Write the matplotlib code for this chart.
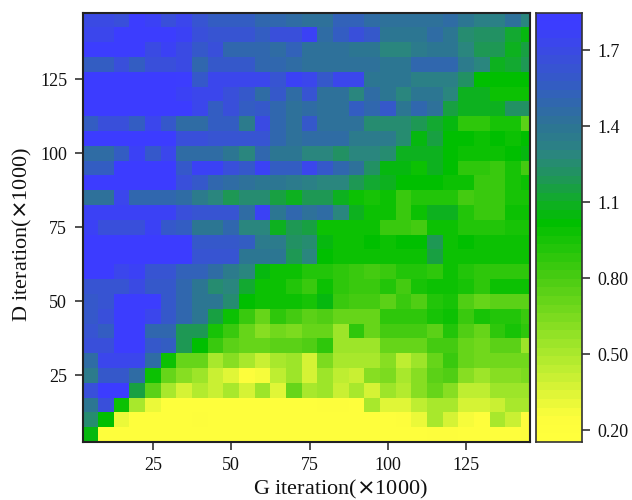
import numpy as np
import matplotlib
matplotlib.use("Agg")
import matplotlib.pyplot as plt
from matplotlib.colors import LinearSegmentedColormap, BoundaryNorm

plt.rcParams['font.family'] = ['Liberation Serif', 'DejaVu Serif']

g_iter = [5 + 5 * i for i in range(29)]
d_iter = [5 + 5 * i for i in range(29)]
x_ticks = [25, 50, 75, 100, 125]
y_ticks = [25, 50, 75, 100, 125]
cbar_ticks = [0.2, 0.5, 0.8, 1.1, 1.4, 1.7]
cbar_labels = ['0.20', '0.50', '0.80', '1.1', '1.4', '1.7']

row_145 = [1.70,1.70,1.68,1.80,1.75,1.68,1.72,1.62,1.55,1.55,1.55,1.50,1.50,1.45,1.42,1.42,1.52,1.52,1.45,1.42,1.42,1.42,1.42,1.45,1.38,1.33,1.33,1.42,1.30]
row_140 = [1.72,1.72,1.80,1.80,1.80,1.80,1.78,1.65,1.63,1.63,1.63,1.55,1.68,1.68,1.75,1.45,1.55,1.68,1.60,1.38,1.38,1.38,1.45,1.40,1.25,1.22,1.22,1.12,1.05]
row_135 = [1.80,1.80,1.80,1.80,1.70,1.75,1.70,1.60,1.68,1.50,1.50,1.50,1.45,1.52,1.42,1.42,1.42,1.38,1.38,1.30,1.30,1.35,1.38,1.38,1.30,1.20,1.20,1.10,1.15]
row_130 = [1.55,1.55,1.65,1.55,1.65,1.65,1.70,1.50,1.60,1.60,1.60,1.50,1.50,1.45,1.42,1.42,1.42,1.42,1.42,1.40,1.40,1.48,1.48,1.48,1.35,1.30,1.10,1.12,1.20]
row_125 = [1.82,1.82,1.82,1.82,1.82,1.82,1.80,1.60,1.72,1.72,1.72,1.72,1.62,1.75,1.72,1.60,1.72,1.72,1.40,1.40,1.40,1.32,1.32,1.32,1.22,1.02,1.02,1.02,1.02]
row_120 = [1.82,1.82,1.82,1.82,1.82,1.82,1.78,1.72,1.72,1.68,1.60,1.45,1.60,1.45,1.62,1.42,1.42,1.30,1.45,1.38,1.30,1.40,1.40,1.28,1.10,1.08,1.00,1.00,1.00]
row_115 = [1.82,1.82,1.82,1.82,1.82,1.82,1.82,1.72,1.55,1.65,1.55,1.58,1.50,1.42,1.45,1.42,1.42,1.55,1.48,1.58,1.38,1.50,1.42,1.15,1.10,1.10,1.10,1.22,1.22]
row_110 = [1.55,1.68,1.68,1.55,1.72,1.60,1.45,1.45,1.55,1.55,1.35,1.70,1.48,1.42,1.58,1.42,1.42,1.42,1.25,1.25,1.25,1.20,1.12,1.05,0.88,0.88,0.95,0.95,0.75]
row_105 = [1.82,1.82,1.82,1.82,1.82,1.82,1.68,1.68,1.62,1.62,1.62,1.62,1.50,1.42,1.45,1.45,1.45,1.35,1.35,1.35,1.25,1.05,1.15,1.02,1.02,0.98,1.02,0.98,1.02]
row_100 = [1.45,1.45,1.55,1.75,1.58,1.72,1.45,1.45,1.45,1.38,1.30,1.48,1.40,1.38,1.30,1.30,1.22,1.28,1.28,1.25,1.10,1.10,1.10,1.02,1.00,1.00,1.00,1.02,1.05]
row_95  = [1.55,1.55,1.82,1.82,1.82,1.82,1.60,1.75,1.75,1.65,1.58,1.75,1.55,1.55,1.72,1.60,1.50,1.42,1.22,1.05,1.05,1.00,1.10,1.02,0.88,0.88,0.85,0.95,0.82]
row_90  = [1.82,1.82,1.82,1.82,1.82,1.82,1.65,1.60,1.50,1.45,1.42,1.38,1.40,1.35,1.32,1.30,1.30,1.18,1.12,1.08,1.02,1.02,1.02,0.98,0.97,0.85,0.85,0.95,0.98]
row_85  = [1.42,1.42,1.72,1.50,1.50,1.50,1.45,1.35,1.30,1.20,1.25,1.25,1.15,1.10,1.18,1.20,1.08,1.00,0.95,0.98,0.85,0.92,0.92,0.90,0.80,0.85,0.85,0.95,0.95]
row_80  = [1.78,1.78,1.78,1.78,1.78,1.78,1.68,1.62,1.62,1.62,1.45,1.75,1.40,1.50,1.42,1.45,1.30,1.08,0.98,0.98,0.85,1.00,1.10,1.08,0.90,0.85,0.85,1.00,0.97]
row_75  = [1.75,1.65,1.65,1.65,1.78,1.60,1.55,1.38,1.38,1.50,1.30,1.30,1.10,1.20,1.15,1.00,1.00,1.00,0.98,0.85,0.85,0.83,0.98,1.00,0.90,0.90,0.90,0.95,0.95]
row_70  = [1.82,1.82,1.82,1.82,1.82,1.82,1.82,1.60,1.60,1.60,1.55,1.35,1.35,1.22,1.25,1.05,1.00,1.00,1.02,1.00,1.02,1.02,1.20,1.00,1.02,1.00,1.00,1.00,1.00]
row_65  = [1.82,1.82,1.82,1.82,1.82,1.82,1.82,1.62,1.62,1.62,1.38,1.38,1.38,1.20,1.28,1.02,1.00,1.00,1.00,1.00,1.00,1.00,1.15,1.00,1.00,1.00,1.00,1.00,1.00]
row_60  = [1.82,1.82,1.72,1.78,1.62,1.62,1.52,1.52,1.45,1.35,1.30,1.05,0.98,0.98,0.92,0.92,0.88,0.85,0.80,0.85,0.92,0.92,0.88,1.00,0.92,0.88,0.88,0.88,0.88]
row_55  = [1.62,1.62,1.62,1.70,1.60,1.60,1.50,1.38,1.25,1.30,1.12,1.00,1.00,0.92,0.85,0.98,0.88,0.85,0.85,0.90,0.80,0.95,1.00,0.98,0.95,0.88,1.00,1.00,1.00]
row_50  = [1.60,1.62,1.80,1.80,1.80,1.60,1.50,1.40,1.38,1.25,1.02,1.00,1.00,0.98,0.95,1.05,0.85,0.82,0.82,0.75,0.85,0.78,0.90,0.95,0.78,0.72,0.75,0.75,0.75]
row_45  = [1.60,1.65,1.80,1.80,1.72,1.58,1.50,1.38,1.15,1.00,0.85,0.70,0.88,0.80,0.75,0.78,0.72,0.72,0.72,0.88,0.88,0.88,0.95,1.00,0.85,0.95,0.92,0.92,0.85]
row_40  = [1.62,1.55,1.80,1.80,1.50,1.50,1.20,1.20,0.95,0.85,0.72,0.62,0.68,0.65,0.72,0.72,0.55,0.88,0.72,0.82,0.82,0.82,0.75,0.90,0.78,0.72,0.88,0.95,0.88]
row_35  = [1.65,1.65,1.80,1.80,1.60,1.55,1.20,1.02,0.85,0.75,0.72,0.72,0.75,0.75,0.78,0.88,0.55,0.55,0.55,0.70,0.72,0.72,0.80,0.82,0.72,0.68,0.75,0.75,0.55]
row_30  = [1.45,1.72,1.72,1.72,1.45,1.00,0.72,0.72,0.50,0.60,0.50,0.42,0.50,0.55,0.38,0.65,0.52,0.52,0.52,0.60,0.45,0.55,0.72,0.85,0.72,0.68,0.68,0.68,0.68]
row_25  = [1.35,1.60,1.60,1.45,1.00,0.72,0.60,0.55,0.42,0.35,0.25,0.28,0.45,0.55,0.38,0.55,0.45,0.42,0.60,0.65,0.52,0.62,0.75,0.78,0.62,0.55,0.62,0.62,0.65]
row_20  = [1.65,1.82,1.82,1.15,0.75,0.50,0.38,0.48,0.40,0.50,0.38,0.55,0.35,0.70,0.52,0.55,0.42,0.50,0.38,0.55,0.48,0.60,0.72,0.60,0.45,0.45,0.55,0.55,0.55]
row_15  = [1.40,1.68,1.00,0.50,0.32,0.20,0.20,0.20,0.20,0.20,0.20,0.20,0.20,0.20,0.20,0.25,0.25,0.20,0.52,0.35,0.35,0.45,0.50,0.50,0.38,0.38,0.42,0.52,0.52]
row_10  = [1.25,1.02,0.32,0.20,0.20,0.20,0.20,0.25,0.20,0.20,0.20,0.20,0.20,0.20,0.20,0.20,0.20,0.20,0.20,0.20,0.25,0.30,0.52,0.38,0.28,0.20,0.52,0.40,0.25]
row_5   = [1.05,0.20,0.20,0.20,0.20,0.20,0.20,0.20,0.20,0.20,0.20,0.20,0.20,0.20,0.20,0.20,0.20,0.20,0.20,0.20,0.20,0.20,0.25,0.25,0.20,0.20,0.20,0.20,0.25]

top_down = [row_145,row_140,row_135,row_130,row_125,row_120,row_115,row_110,row_105,row_100,
            row_95,row_90,row_85,row_80,row_75,row_70,row_65,row_60,row_55,row_50,row_45,
            row_40,row_35,row_30,row_25,row_20,row_15,row_10,row_5]
values = np.array(top_down[::-1])

vmin, vmax = 0.153, 1.85
span = vmax - vmin
stops = [(0.153, '#ffff3c'), (0.24, '#fcfd3c'), (0.35, '#d8f436'), (0.50, '#a8e82c'), (0.65, '#78da1e'), (0.80, '#48cc12'),
         (1.02, '#00bf00'), (1.10, '#0fae25'), (1.20, '#1f9658'), (1.30, '#2a8580'),
         (1.42, '#2d7396'), (1.55, '#3260bc'), (1.70, '#3a4ce0'), (1.82, '#3c3cff'), (1.85, '#3c3cff')]
n_levels = 50
cmap = LinearSegmentedColormap.from_list('gyb', [((v - vmin) / span, c) for v, c in stops], N=n_levels)
levels = np.linspace(vmin, vmax, n_levels + 1)
norm = BoundaryNorm(levels, cmap.N)

W, H = 632, 500
fig = plt.figure(figsize=(W / 100, H / 100), dpi=100)
ax = fig.add_axes([82.5 / W, 1 - 442 / H, 447 / W, 429.5 / H])
x_edges = np.array(g_iter + [g_iter[-1] + 5]) - 2.5
y_edges = np.array(d_iter + [d_iter[-1] + 5]) - 2.5
ax.pcolormesh(x_edges, y_edges, values, cmap=cmap, norm=norm, antialiased=False, rasterized=True)
ax.set_xlim(2.5, 145.2)
ax.set_ylim(2.5, 147.5)
ax.set_xticks(x_ticks)
ax.set_yticks(y_ticks)
ax.tick_params(length=6, width=1.1, labelsize=13, color='#222222', labelcolor='#111111', pad=5)
fig.text(340 / W, 1 - 489 / H, 'G iteration($\\times$1000)', fontsize=16, color='#111111', ha='center', va='center')
fig.text(22 / W, 1 - 235 / H, 'D iteration($\\times$1000)', fontsize=16, color='#111111', ha='center', va='center', rotation=90)
for s in ax.spines.values():
    s.set_linewidth(1.5)
    s.set_color('#222222')

cax = fig.add_axes([536 / W, 1 - 442 / H, 46 / W, 429.5 / H])
grad = np.array(levels[:-1] + (levels[1] - levels[0]) / 2).reshape(-1, 1)
cax.pcolormesh([0, 1], levels, grad, cmap=cmap, norm=norm, antialiased=False, rasterized=True)
cax.set_xticks([])
cax.yaxis.tick_right()
cax.set_yticks(cbar_ticks)
cax.set_yticklabels(cbar_labels)
cax.tick_params(axis='y', length=6, width=1.1, labelsize=13, color='#222222', labelcolor='#111111', pad=5)
for s in cax.spines.values():
    s.set_linewidth(1.2)
    s.set_color('#333333')

fig.savefig('out.png', dpi=100)
